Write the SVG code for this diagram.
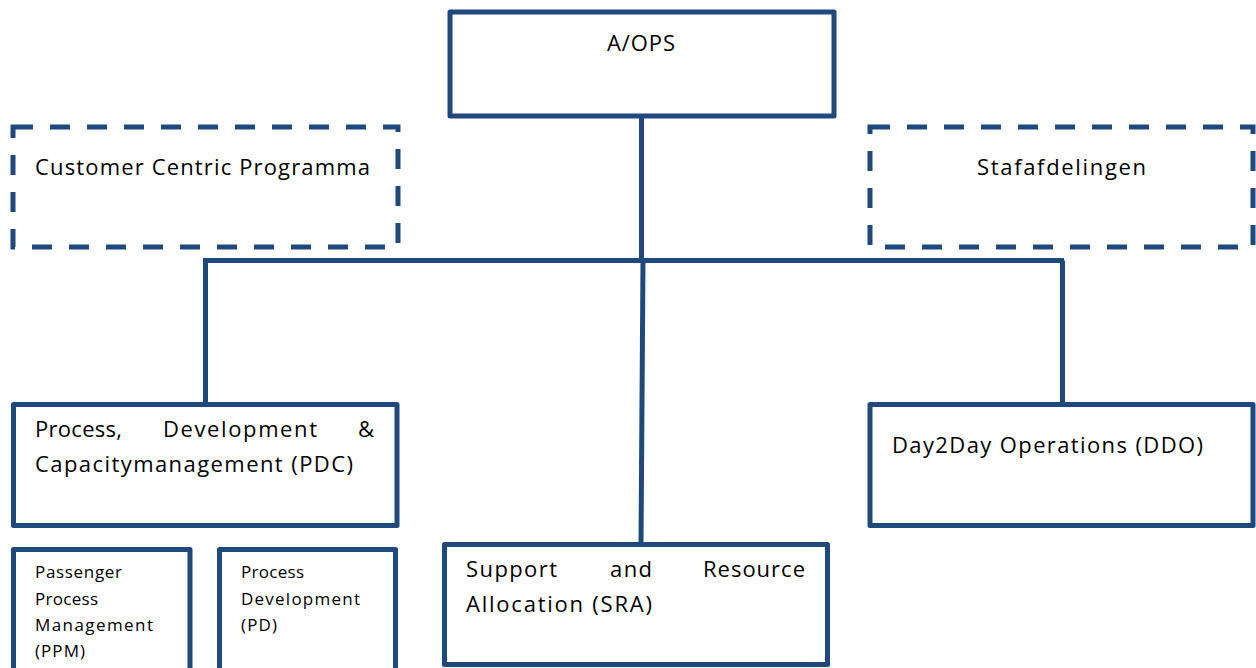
<svg xmlns="http://www.w3.org/2000/svg" width="1256" height="668" viewBox="0 0 1256 668">
<style>
.box{fill:#fff;stroke:#1f497d;stroke-width:5;stroke-linejoin:round}
.dash{fill:#fff;stroke:#1f497d;stroke-width:5;stroke-dasharray:20 17}
.con{fill:none;stroke:#1f497d;stroke-width:5}
.t{font-family:"Open Sans","Liberation Sans",sans-serif;font-size:22px;fill:#000}
.s{font-family:"Open Sans","Liberation Sans",sans-serif;font-size:17px;fill:#000}
</style>
<rect width="1256" height="668" fill="#fff"/>
<g id="connectors">
<line class="con" x1="641.5" y1="116" x2="641.5" y2="262"/>
<line class="con" x1="203" y1="260.5" x2="1064" y2="260.5"/>
<line class="con" x1="205.5" y1="260.5" x2="205.5" y2="404"/>
<line class="con" x1="1062.5" y1="260.5" x2="1062.5" y2="404"/>
<line class="con" x1="643" y1="260.5" x2="641" y2="544"/>
</g>
<g id="aops">
<rect class="box" x="450" y="12" width="384" height="104"/>
<text class="t" x="607" y="51" textLength="68" lengthAdjust="spacing">A/OPS</text>
</g>
<g id="ccp">
<rect class="dash" x="13" y="127" width="385" height="120"/>
<text class="t" x="35" y="175" textLength="335" lengthAdjust="spacing">Customer Centric Programma</text>
</g>
<g id="staf">
<rect class="dash" x="870" y="127" width="383" height="120"/>
<text class="t" x="977" y="175" textLength="169" lengthAdjust="spacing">Stafafdelingen</text>
</g>
<g id="pdc">
<rect class="box" x="13.5" y="404.5" width="383.5" height="121"/>
<text class="t" x="35" y="437" textLength="87" lengthAdjust="spacing">Process,</text>
<text class="t" x="163" y="437" textLength="154" lengthAdjust="spacing">Development</text>
<text class="t" x="374" y="437" text-anchor="end">&amp;</text>
<text class="t" x="35" y="472" textLength="318" lengthAdjust="spacing">Capacitymanagement (PDC)</text>
</g>
<g id="ppm">
<rect class="box" x="13.5" y="549.5" width="176.5" height="130"/>
<text class="s" x="35" y="578" textLength="87" lengthAdjust="spacing">Passenger</text>
<text class="s" x="35" y="605" textLength="63" lengthAdjust="spacing">Process</text>
<text class="s" x="35" y="631" textLength="118" lengthAdjust="spacing">Management</text>
<text class="s" x="35" y="657" textLength="50" lengthAdjust="spacing">(PPM)</text>
</g>
<g id="pd">
<rect class="box" x="219.5" y="549.5" width="176" height="130"/>
<text class="s" x="241" y="578" textLength="63" lengthAdjust="spacing">Process</text>
<text class="s" x="241" y="605" textLength="119" lengthAdjust="spacing">Development</text>
<text class="s" x="241" y="631" textLength="36" lengthAdjust="spacing">(PD)</text>
</g>
<g id="sra">
<rect class="box" x="444.5" y="544.5" width="383" height="120"/>
<text class="t" x="466" y="577" textLength="91" lengthAdjust="spacing">Support</text>
<text class="t" x="610" y="577" textLength="42" lengthAdjust="spacing">and</text>
<text class="t" x="703" y="577" textLength="102" lengthAdjust="spacing">Resource</text>
<text class="t" x="466" y="612" textLength="186" lengthAdjust="spacing">Allocation (SRA)</text>
</g>
<g id="ddo">
<rect class="box" x="870" y="404.5" width="383" height="121"/>
<text class="t" x="892" y="453" textLength="311" lengthAdjust="spacing">Day2Day Operations (DDO)</text>
</g>
</svg>
